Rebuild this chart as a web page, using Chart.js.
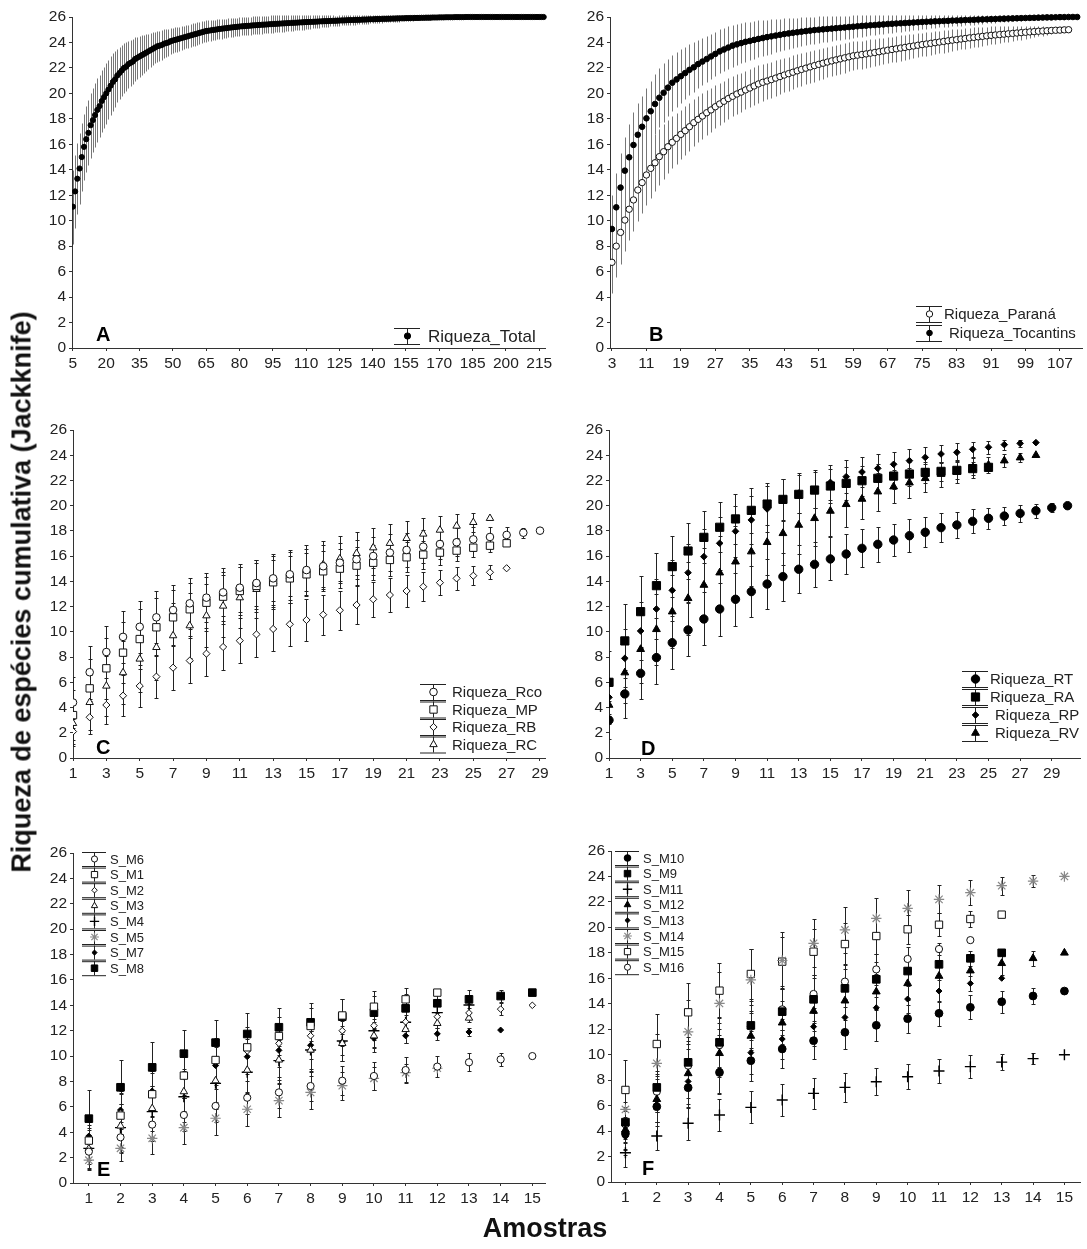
<!DOCTYPE html>
<html lang="pt">
<head>
<meta charset="UTF-8">
<title>Riqueza de espécies cumulativa (Jackknife)</title>
<script src="https://cdn.jsdelivr.net/npm/chart.js"></script>
<style>
  body { margin: 0; background: #fff; }
  #page { position: relative; width: 1087px; height: 1249px; overflow: hidden; background: #fff;
          font-family: "Liberation Sans", Arial, sans-serif; color: #111; }
  #page canvas { position: absolute; left: 0; top: 0; }
  .ytitle { position: absolute; left: 22px; top: 592px; transform: translate(-50%, -50%) rotate(-90deg);
            font-weight: bold; font-size: 27px; white-space: nowrap; }
  .xtitle { position: absolute; left: 545px; top: 1228px; transform: translate(-50%, -50%);
            font-weight: bold; font-size: 27px; white-space: nowrap; }
</style>
</head>
<body>
<div id="page">
  <canvas id="cA" width="1087" height="1249"></canvas>
  <canvas id="cB" width="1087" height="1249"></canvas>
  <canvas id="cC" width="1087" height="1249"></canvas>
  <canvas id="cD" width="1087" height="1249"></canvas>
  <canvas id="cE" width="1087" height="1249"></canvas>
  <canvas id="cF" width="1087" height="1249"></canvas>
  <div class="ytitle">Riqueza de espécies cumulativa (Jackknife)</div>
  <div class="xtitle">Amostras</div>
</div>
<script>
// ---------- data ----------
// A: total richness, samples 5..217
const totalStart = 5;
const riquezaTotal = [
  11.1, 12.3, 13.3, 14.1, 15.0, 15.8, 16.4, 16.9, 17.5, 17.9,
  18.3, 18.7, 19.0, 19.4, 19.7, 20.0, 20.3, 20.6, 20.9, 21.1,
  21.4, 21.6, 21.8, 22.0, 22.1, 22.3, 22.4, 22.5, 22.7, 22.8,
  22.9, 23.0, 23.1, 23.2, 23.3, 23.4, 23.5, 23.6, 23.7, 23.75,
  23.8, 23.9, 23.95, 24.0, 24.1, 24.15, 24.2, 24.25, 24.3, 24.35,
  24.4, 24.45, 24.5, 24.55, 24.6, 24.65, 24.7, 24.75, 24.8, 24.85,
  24.9, 24.92, 24.95, 24.98, 25.0, 25.03, 25.06, 25.08, 25.1, 25.12,
  25.15, 25.17, 25.19, 25.21, 25.23, 25.25, 25.27, 25.28, 25.3, 25.31,
  25.32, 25.34, 25.35, 25.36, 25.38, 25.39, 25.4, 25.41, 25.42, 25.44,
  25.45, 25.46, 25.47, 25.48, 25.49, 25.5, 25.51, 25.52, 25.53, 25.54,
  25.55, 25.56, 25.57, 25.58, 25.59, 25.6, 25.61, 25.62, 25.62, 25.63,
  25.64, 25.65, 25.66, 25.67, 25.67, 25.68, 25.69, 25.7, 25.7, 25.71,
  25.72, 25.73, 25.73, 25.74, 25.75, 25.76, 25.76, 25.77, 25.78, 25.78,
  25.79, 25.8, 25.8, 25.81, 25.82, 25.82, 25.83, 25.84, 25.84, 25.85,
  25.86, 25.86, 25.87, 25.87, 25.88, 25.88, 25.89, 25.89, 25.9, 25.9,
  25.91, 25.91, 25.92, 25.92, 25.93, 25.93, 25.93, 25.94, 25.94, 25.95,
  25.95, 25.95, 25.96, 25.96, 25.96, 25.97, 25.97, 25.97, 25.98, 25.98,
  25.98, 25.98, 25.99, 25.99, 25.99, 25.99, 25.99, 26, 26, 26,
  26, 26, 26, 26, 26, 26, 26, 26, 26, 26,
  26, 26, 26, 26, 26, 26, 26, 26, 26, 26,
  26, 26, 26, 26, 26, 26, 26, 26, 26, 26,
  26, 26, 26
];
const riquezaTotalErr = [
  2.9, 2.85, 2.8, 2.75, 2.7, 2.6, 2.6, 2.55, 2.55, 2.5,
  2.5, 2.5, 2.45, 2.45, 2.4, 2.4, 2.35, 2.3, 2.25, 2.2,
  2.1, 2.05, 2.0, 1.95, 1.9, 1.85, 1.8, 1.75, 1.7, 1.65,
  1.6, 1.55, 1.5, 1.45, 1.4, 1.35, 1.3, 1.25, 1.2, 1.18,
  1.15, 1.12, 1.1, 1.05, 1.02, 1.0, 0.98, 0.96, 0.95, 0.94,
  0.93, 0.92, 0.91, 0.9, 0.9, 0.89, 0.88, 0.87, 0.86, 0.85,
  0.84, 0.83, 0.82, 0.81, 0.8, 0.79, 0.78, 0.77, 0.76, 0.75,
  0.75, 0.74, 0.74, 0.73, 0.72, 0.72, 0.71, 0.71, 0.7, 0.7,
  0.7, 0.7, 0.7, 0.69, 0.69, 0.69, 0.68, 0.68, 0.68, 0.68,
  0.67, 0.67, 0.66, 0.66, 0.65, 0.65, 0.64, 0.63, 0.62, 0.61,
  0.6, 0.6, 0.59, 0.58, 0.58, 0.57, 0.55, 0.53, 0.52, 0.5,
  0.49, 0.48, 0.47, 0.46, 0.45, 0.44, 0.43, 0.42, 0.41, 0.4,
  0.4, 0.39, 0.39, 0.38, 0.38, 0.37, 0.37, 0.36, 0.36, 0.35,
  0.35, 0.34, 0.34, 0.33, 0.33, 0.32, 0.31, 0.31, 0.3, 0.3,
  0.29, 0.28, 0.28, 0.27, 0.27, 0.26, 0.25, 0.25, 0.24, 0.24,
  0.23, 0.22, 0.21, 0.21, 0.2, 0.19, 0.18, 0.18, 0.17, 0.16,
  0.16, 0.15, 0.15, 0.14, 0.14, 0.13, 0.12, 0.12, 0.11, 0.11,
  0.1, 0.1, 0.09, 0.09, 0.08, 0.08, 0.08, 0.07, 0.07, 0.06,
  0.06, 0.06, 0.05, 0.05, 0.05, 0.04, 0.04, 0.04, 0.03, 0.03,
  0.03, 0.03, 0.02, 0.02, 0.02, 0.02, 0.02, 0.01, 0.01, 0.01,
  0, 0, 0, 0, 0, 0, 0, 0, 0, 0,
  0, 0, 0
];
const xTicksA = [5, 20, 35, 50, 65, 80, 95, 110, 125, 140, 155, 170, 185, 200, 215];

// B: Paraná and Tocantins, samples from 3
const basinStart = 3;
const riquezaParana = [
  6.73, 8.0, 9.08, 10.05, 10.9, 11.63, 12.41, 12.99, 13.59, 14.11,
  14.55, 15.03, 15.42, 15.81, 16.16, 16.47, 16.78, 17.07, 17.38, 17.7,
  17.96, 18.22, 18.48, 18.7, 18.95, 19.17, 19.38, 19.59, 19.77, 19.95,
  20.1, 20.27, 20.42, 20.58, 20.74, 20.87, 20.97, 21.08, 21.2, 21.32,
  21.44, 21.55, 21.66, 21.77, 21.88, 21.98, 22.08, 22.18, 22.28, 22.37,
  22.46, 22.55, 22.63, 22.71, 22.79, 22.87, 22.95, 23.0, 23.05, 23.1,
  23.16, 23.21, 23.27, 23.33, 23.39, 23.45, 23.5, 23.56, 23.61, 23.67,
  23.72, 23.78, 23.83, 23.88, 23.93, 23.98, 24.03, 24.08, 24.13, 24.18,
  24.22, 24.27, 24.31, 24.36, 24.4, 24.44, 24.48, 24.52, 24.56, 24.59,
  24.62, 24.65, 24.68, 24.71, 24.74, 24.77, 24.8, 24.83, 24.85, 24.88,
  24.9, 24.92, 24.94, 24.96, 24.97, 24.99, 25.0
];
const riquezaParanaErr = [
  2.4, 2.45, 2.45, 2.45, 2.45, 2.45, 2.4, 2.4, 2.35, 2.3,
  2.25, 2.2, 2.15, 2.1, 2.05, 2.0, 1.95, 1.9, 1.87, 1.84,
  1.81, 1.78, 1.75, 1.72, 1.69, 1.66, 1.63, 1.6, 1.58, 1.56,
  1.54, 1.52, 1.5, 1.48, 1.46, 1.45, 1.43, 1.41, 1.39, 1.37,
  1.35, 1.34, 1.32, 1.3, 1.29, 1.27, 1.26, 1.25, 1.24, 1.22,
  1.21, 1.2, 1.18, 1.17, 1.16, 1.14, 1.13, 1.12, 1.1, 1.09,
  1.08, 1.06, 1.05, 1.04, 1.02, 1.01, 1.0, 0.99, 0.98, 0.96,
  0.95, 0.94, 0.93, 0.92, 0.91, 0.9, 0.89, 0.88, 0.86, 0.85,
  0.84, 0.82, 0.81, 0.79, 0.78, 0.76, 0.74, 0.72, 0.7, 0.68,
  0.66, 0.64, 0.62, 0.6, 0.57, 0.54, 0.51, 0.48, 0.45, 0.41,
  0.37, 0.33, 0.28, 0.23, 0.17, 0.1, 0
];
const riquezaTocantins = [
  9.35, 11.05, 12.6, 13.93, 14.98, 15.95, 16.75, 17.38, 18.04, 18.6,
  19.17, 19.66, 20.05, 20.45, 20.84, 21.1, 21.35, 21.6, 21.85, 22.05,
  22.3, 22.5, 22.7, 22.9, 23.1, 23.3, 23.45, 23.6, 23.75, 23.85,
  23.95, 24.05, 24.12, 24.2, 24.28, 24.35, 24.42, 24.48, 24.54, 24.6,
  24.66, 24.71, 24.76, 24.8, 24.85, 24.89, 24.93, 24.97, 25.0, 25.03,
  25.06, 25.09, 25.12, 25.15, 25.18, 25.21, 25.24, 25.27, 25.3, 25.32,
  25.35, 25.37, 25.4, 25.42, 25.45, 25.47, 25.49, 25.51, 25.53, 25.55,
  25.57, 25.59, 25.61, 25.63, 25.64, 25.66, 25.67, 25.69, 25.7, 25.72,
  25.73, 25.74, 25.76, 25.77, 25.78, 25.8, 25.81, 25.82, 25.83, 25.84,
  25.86, 25.87, 25.88, 25.89, 25.9, 25.91, 25.92, 25.93, 25.94, 25.95,
  25.96, 25.97, 25.97, 25.98, 25.99, 25.99, 26, 26, 26
];
const riquezaTocantinsErr = [
  2.7, 2.7, 2.7, 2.65, 2.6, 2.55, 2.5, 2.45, 2.4, 2.4,
  2.35, 2.3, 2.3, 2.25, 2.2, 2.15, 2.1, 2.05, 2.0, 1.95,
  1.9, 1.85, 1.8, 1.78, 1.75, 1.72, 1.7, 1.67, 1.64, 1.61,
  1.58, 1.55, 1.52, 1.48, 1.45, 1.42, 1.38, 1.35, 1.32, 1.28,
  1.25, 1.22, 1.19, 1.16, 1.13, 1.1, 1.08, 1.06, 1.04, 1.02,
  1.0, 0.98, 0.96, 0.94, 0.92, 0.9, 0.88, 0.86, 0.84, 0.82,
  0.8, 0.78, 0.76, 0.74, 0.72, 0.7, 0.68, 0.66, 0.64, 0.62,
  0.6, 0.58, 0.56, 0.54, 0.52, 0.5, 0.49, 0.47, 0.46, 0.44,
  0.43, 0.41, 0.4, 0.38, 0.37, 0.35, 0.34, 0.32, 0.31, 0.29,
  0.28, 0.26, 0.25, 0.23, 0.22, 0.2, 0.19, 0.17, 0.15, 0.14,
  0.12, 0.1, 0.09, 0.07, 0.05, 0.04, 0.02, 0.01, 0
];
const xTicksB = [3, 11, 19, 27, 35, 43, 51, 59, 67, 75, 83, 91, 99, 107];

// C: rivers, samples from 1
const riquezaRco = [4.4, 6.8, 8.4, 9.6, 10.4, 11.15, 11.73, 12.26, 12.71, 13.13, 13.5, 13.87, 14.24, 14.56, 14.9,
  15.2, 15.48, 15.75, 16.01, 16.28, 16.49, 16.75, 16.96, 17.1, 17.33, 17.52, 17.68, 17.86, 18.02];
const riquezaRcoErr = [2.0, 2.1, 2.05, 2.05, 2.05, 2.05, 2.0, 2.0, 1.95, 1.9, 1.9, 1.85, 1.8, 1.75, 1.7,
  1.65, 1.6, 1.55, 1.5, 1.45, 1.35, 1.3, 1.2, 1.1, 0.95, 0.8, 0.6, 0.4, 0];
const riquezaMP = [3.4, 5.52, 7.11, 8.35, 9.43, 10.36, 11.15, 11.79, 12.31, 12.79, 13.24, 13.64, 13.93, 14.24,
  14.56, 14.8, 15.01, 15.25, 15.48, 15.7, 15.91, 16.12, 16.28, 16.44, 16.67, 16.83, 17.02];
const riquezaMPErr = [2.0, 2.3, 2.4, 2.4, 2.35, 2.3, 2.2, 2.1, 2.0, 1.95, 1.9, 1.85, 1.8, 1.75,
  1.7, 1.6, 1.55, 1.5, 1.4, 1.3, 1.2, 1.1, 1.0, 0.85, 0.7, 0.5, 0];
const riquezaRB = [2.1, 3.23, 4.2, 4.94, 5.71, 6.45, 7.16, 7.72, 8.27, 8.8, 9.3, 9.8, 10.23, 10.6,
  10.94, 11.36, 11.71, 12.13, 12.58, 12.92, 13.24, 13.58, 13.9, 14.24, 14.45, 14.72, 15.04];
const riquezaRBErr = [1.0, 1.3, 1.5, 1.6, 1.7, 1.7, 1.75, 1.8, 1.8, 1.8, 1.8, 1.8, 1.75, 1.7,
  1.65, 1.6, 1.55, 1.5, 1.4, 1.35, 1.25, 1.15, 1.0, 0.9, 0.75, 0.55, 0];
const riquezaRC = [2.75, 4.41, 5.71, 6.77, 7.85, 8.77, 9.7, 10.49, 11.28, 12.05, 12.71, 13.37, 13.98,
  14.38, 14.9, 15.33, 15.8, 16.22, 16.67, 17.02, 17.41, 17.76, 18.07, 18.39, 18.68, 19.0];
const riquezaRCErr = [1.8, 2.2, 2.4, 2.5, 2.6, 2.6, 2.6, 2.55, 2.5, 2.45, 2.4, 2.3, 2.2,
  2.1, 2.0, 1.9, 1.8, 1.7, 1.6, 1.5, 1.35, 1.25, 1.15, 0.95, 0.75, 0];
const xTicksCD = [1, 3, 5, 7, 9, 11, 13, 15, 17, 19, 21, 23, 25, 27, 29];

// D: rivers, samples from 1
const riquezaRT = [3.0, 5.08, 6.71, 7.96, 9.14, 10.15, 11.02, 11.81, 12.58, 13.19, 13.79, 14.38, 14.96, 15.35, 15.78,
  16.17, 16.62, 16.94, 17.28, 17.62, 17.89, 18.26, 18.47, 18.76, 19.0, 19.18, 19.39, 19.6, 19.84, 20.0];
const riquezaRTErr = [1.5, 1.9, 2.0, 2.1, 2.1, 2.1, 2.1, 2.1, 2.1, 2.0, 1.95, 1.9, 1.9, 1.8, 1.7,
  1.6, 1.5, 1.4, 1.3, 1.3, 1.2, 1.15, 1.05, 0.95, 0.85, 0.75, 0.65, 0.55, 0.35, 0];
const riquezaRA = [6.0, 9.28, 11.6, 13.66, 15.17, 16.41, 17.49, 18.29, 18.95, 19.63, 20.13, 20.5, 20.9,
  21.24, 21.56, 21.77, 21.98, 22.17, 22.35, 22.51, 22.64, 22.72, 22.8, 22.94, 23.04];
const riquezaRAErr = [2.5, 2.9, 2.8, 2.6, 2.4, 2.25, 2.05, 2.0, 1.95, 1.8, 1.65, 1.6, 1.5,
  1.45, 1.35, 1.3, 1.2, 1.1, 1.0, 0.95, 0.85, 0.75, 0.65, 0.5, 0.3];
const riquezaRP = [4.81, 7.9, 10.07, 11.81, 13.29, 14.69, 15.96, 17.02, 17.97, 18.87, 19.74, 20.45, 21.0, 21.3,
  21.85, 22.3, 22.67, 22.96, 23.28, 23.57, 23.83, 24.1, 24.23, 24.47, 24.63, 24.84, 24.94, 25.0];
const riquezaRPErr = [1.5, 2.3, 2.3, 2.4, 2.4, 2.3, 2.2, 2.1, 2.0, 1.9, 1.8, 1.7, 1.6, 1.5,
  1.4, 1.3, 1.2, 1.1, 1.0, 0.9, 0.85, 0.75, 0.7, 0.6, 0.5, 0.4, 0.3, 0];
const riquezaRV = [4.2, 6.77, 8.62, 10.2, 11.6, 12.66, 13.71, 14.69, 15.56, 16.36, 17.1, 17.81, 18.47, 19.0,
  19.58, 20.11, 20.53, 21.11, 21.51, 21.82, 22.17, 22.5, 22.7, 23.0, 23.23, 23.57, 23.81, 24.0];
const riquezaRVErr = [1.5, 2.4, 2.7, 2.8, 2.9, 2.9, 2.9, 2.9, 2.8, 2.7, 2.6, 2.5, 2.3, 2.2,
  2.0, 1.8, 1.6, 1.5, 1.3, 1.2, 1.1, 1.0, 0.9, 0.8, 0.65, 0.5, 0.35, 0];

// E: sites M1-M8, samples from 1
const sM6 = [2.47, 3.6, 4.6, 5.36, 6.07, 6.72, 7.14, 7.64, 8.06, 8.43, 8.9, 9.17, 9.51, 9.74, 10.0];
const sM6Err = [1.0, 1.2, 1.3, 1.3, 1.3, 1.3, 1.25, 1.2, 1.15, 1.1, 1.0, 0.85, 0.7, 0.5, 0];
const sM1 = [3.34, 5.31, 6.99, 8.46, 9.69, 10.69, 11.58, 12.37, 13.2, 13.89, 14.47, 15.0];
const sM1Err = [1.5, 1.7, 1.8, 1.8, 1.7, 1.6, 1.5, 1.4, 1.3, 1.2, 0.9, 0];
const sM2 = [3.2, 5.5, 7.0, 8.4, 9.6, 10.4, 11.0, 11.6, 12.0, 12.4, 12.7, 13.1, 13.4, 13.7, 14.0];
const sM2Err = [1.4, 1.6, 1.7, 1.7, 1.6, 1.5, 1.4, 1.3, 1.2, 1.1, 1.0, 0.85, 0.7, 0.5, 0];
const sM3 = [2.7, 4.5, 5.88, 7.2, 8.06, 8.9, 9.7, 10.48, 11.0, 11.6, 12.1, 12.58, 13.0];
const sM3Err = [1.5, 1.7, 1.8, 1.8, 1.8, 1.7, 1.6, 1.5, 1.4, 1.3, 1.1, 0.8, 0];
const sM4 = [2.73, 4.36, 5.62, 6.8, 7.85, 8.72, 9.64, 10.48, 11.19, 12.0, 12.66, 13.42, 14.03];
const sM4Err = [1.6, 1.9, 2.0, 2.0, 2.0, 1.9, 1.8, 1.7, 1.6, 1.3, 1.0, 0.7, 0];
const sM5 = [1.8, 2.73, 3.52, 4.36, 5.1, 5.81, 6.49, 7.14, 7.67, 8.25, 8.69, 9.04];
const sM5Err = [0.8, 1.0, 1.2, 1.3, 1.3, 1.3, 1.3, 1.3, 1.1, 0.9, 0.7, 0];
const sM7 = [3.7, 5.75, 7.25, 8.5, 9.25, 9.95, 10.45, 10.85, 11.1, 11.4, 11.6, 11.75, 11.9, 12.05];
const sM7Err = [1.4, 1.5, 1.6, 1.6, 1.5, 1.4, 1.3, 1.1, 1.0, 0.8, 0.6, 0.5, 0.35, 0];
const sM8 = [5.07, 7.54, 9.11, 10.19, 11.06, 11.74, 12.27, 12.66, 13.11, 13.42, 13.76, 14.16, 14.47, 14.73, 15.0];
const sM8Err = [2.25, 2.15, 2.0, 1.9, 1.8, 1.65, 1.5, 1.5, 1.4, 1.3, 1.1, 0.9, 0.7, 0.5, 0];

// F: sites M9-M16, samples from 1
const sM10 = [3.8, 5.92, 7.41, 8.61, 9.53, 10.45, 11.1, 11.76, 12.31, 12.83, 13.25, 13.72, 14.16, 14.61, 15.0];
const sM10Err = [1.3, 1.5, 1.6, 1.6, 1.6, 1.5, 1.4, 1.3, 1.2, 1.1, 1.0, 0.95, 0.85, 0.6, 0];
const sM9 = [4.7, 7.43, 9.4, 10.97, 12.3, 13.38, 14.35, 15.21, 15.92, 16.57, 17.1, 17.57, 18.0];
const sM9Err = [1.6, 1.9, 2.0, 2.0, 1.9, 1.8, 1.7, 1.5, 1.4, 1.2, 1.0, 0.6, 0];
const sM11 = [2.3, 3.61, 4.61, 5.26, 5.86, 6.44, 6.96, 7.43, 7.88, 8.27, 8.72, 9.06, 9.42, 9.69, 10.0];
const sM11Err = [1.1, 1.1, 1.3, 1.25, 1.25, 1.25, 1.2, 1.15, 1.05, 1.0, 0.97, 0.9, 0.65, 0.45, 0];
const sM12 = [4.1, 6.5, 8.53, 10.11, 11.47, 12.51, 13.43, 14.24, 14.95, 15.6, 16.18, 16.6, 17.18, 17.57, 18.0];
const sM12Err = [1.5, 1.8, 1.9, 1.9, 1.8, 1.7, 1.6, 1.5, 1.4, 1.3, 1.2, 1.0, 0.9, 0.6, 0];
const sM13 = [3.56, 6.39, 7.9, 8.72, 10.16, 11.23, 12.2, 12.93, 13.69, 14.37, 15.0, 15.6, 16.0];
const sM13Err = [1.4, 1.7, 1.8, 1.8, 1.7, 1.6, 1.5, 1.4, 1.3, 1.1, 0.9, 0.6, 0];
const sM14 = [5.7, 9.32, 11.8, 14.03, 15.87, 17.4, 18.75, 19.8, 20.71, 21.5, 22.2, 22.73, 23.28, 23.64, 24.0];
const sM14Err = [1.8, 2.3, 2.5, 2.5, 2.4, 2.2, 1.9, 1.8, 1.6, 1.4, 1.1, 1.0, 0.7, 0.45, 0];
const sM15 = [7.23, 10.84, 13.33, 15.03, 16.34, 17.31, 18.09, 18.69, 19.32, 19.85, 20.21, 20.66, 21.0];
const sM15Err = [2.35, 2.33, 2.27, 2.15, 2.0, 1.95, 1.8, 1.65, 1.4, 1.15, 0.9, 0.6, 0];
const sM16 = [4.53, 7.09, 9.14, 10.76, 12.2, 13.56, 14.77, 15.74, 16.7, 17.52, 18.3, 19.0];
const sM16Err = [1.4, 1.6, 1.7, 1.7, 1.7, 1.6, 1.5, 1.4, 1.2, 0.9, 0.5, 0];
const xTicksEF = [1, 2, 3, 4, 5, 6, 7, 8, 9, 10, 11, 12, 13, 14, 15];

// ---------- style ----------
const FONT = "'Liberation Sans', Arial, sans-serif";
const PAGE_W = 1087, PAGE_H = 1249;
const YW = 45, XH = 30;
const AXIS = '#333', TXT = '#222';

const MK = {
  dotA:    { style: 'circle',   r: 2.6, fill: '#000', line: '#000' },
  dotB:    { style: 'circle',   r: 2.8, fill: '#000', line: '#000' },
  ringB:   { style: 'circle',   r: 3.2, fill: '#fff', line: '#111' },
  ring:    { style: 'circle',   r: 3.8, fill: '#fff', line: '#111' },
  box:     { style: 'rect',     r: 5.2, fill: '#fff', line: '#111' },
  diam:    { style: 'rectRot',  r: 3.6, fill: '#fff', line: '#111' },
  tri:     { style: 'triangle', r: 4.3, fill: '#fff', line: '#111' },
  dot:     { style: 'circle',   r: 4.2, fill: '#000', line: '#000' },
  boxF:    { style: 'rect',     r: 5.8, fill: '#000', line: '#000' },
  diamF:   { style: 'rectRot',  r: 3.3, fill: '#000', line: '#000' },
  triF:    { style: 'triangle', r: 4.5, fill: '#000', line: '#000' },
  plus:    { style: 'cross',    r: 5.5, fill: '#000', line: '#000', w: 1.4 },
  star:    { style: 'star',     r: 5.2, fill: '#888', line: '#888', w: 1.2 },
  ringS:   { style: 'circle',   r: 3.6, fill: '#fff', line: '#111' },
  boxS:    { style: 'rect',     r: 5.2, fill: '#fff', line: '#111' },
  boxFS:   { style: 'rect',     r: 5.4, fill: '#000', line: '#000' },
  dotS:    { style: 'circle',   r: 3.9, fill: '#000', line: '#000' },
  diamS:   { style: 'rectRot',  r: 3.3, fill: '#fff', line: '#111' },
  diamFS:  { style: 'rectRot',  r: 3.0, fill: '#000', line: '#000' }
};

function series(label, vals, errs, start, mk, errColor) {
  return {
    label,
    data: vals.map((v, i) => ({ x: start + i, y: v })),
    errors: errs,
    errColor: errColor || '#222',
    showLine: false,
    pointStyle: mk.style,
    pointRadius: mk.r,
    pointHoverRadius: mk.r,
    backgroundColor: mk.fill,
    borderColor: mk.line,
    pointBorderWidth: mk.w || 1,
    borderWidth: mk.w || 1,
    clip: { left: 0, top: 10, right: 4, bottom: 6 }
  };
}

// error bars drawn through the chart scales, behind the markers
const errorBars = {
  id: 'errorBars',
  beforeDatasetsDraw(chart) {
    const { ctx, chartArea: a, scales: { x, y } } = chart;
    const cap = chart.options.plugins.panelLegend.cap;
    ctx.save();
    ctx.beginPath();
    ctx.rect(a.left, a.top - 8, a.right - a.left + 3, a.bottom - a.top + 12);
    ctx.clip();
    ctx.lineWidth = 1;
    chart.data.datasets.forEach(ds => {
      if (!ds.errors) return;
      ctx.strokeStyle = ds.errColor;
      ctx.beginPath();
      ds.data.forEach((p, i) => {
        const e = ds.errors[i];
        if (!e) return;
        const px = Math.round(x.getPixelForValue(p.x)) + 0.5;
        const t = Math.round(y.getPixelForValue(p.y + e)) + 0.5;
        const b = Math.round(y.getPixelForValue(p.y - e)) + 0.5;
        ctx.moveTo(px, t); ctx.lineTo(px, b);
        if (cap > 0) {
          ctx.moveTo(px - cap, t); ctx.lineTo(px + cap, t);
          ctx.moveTo(px - cap, b); ctx.lineTo(px + cap, b);
        }
      });
      ctx.stroke();
    });
    ctx.restore();
  }
};

// Statistica-style legend: error bar glyph with marker, then label; plus panel letter
const panelLegend = {
  id: 'panelLegend',
  afterDraw(chart, args, o) {
    const ctx = chart.ctx;
    ctx.save();
    ctx.textBaseline = 'middle';
    ctx.textAlign = 'left';
    o.items.forEach((dsIndex, i) => {
      const ds = chart.data.datasets[dsIndex];
      const cx = o.cx, cy = o.cy[i];
      ctx.strokeStyle = '#222';
      ctx.lineWidth = 1;
      ctx.beginPath();
      ctx.moveTo(cx + 0.5, cy - o.half); ctx.lineTo(cx + 0.5, cy + o.half);
      ctx.moveTo(cx - o.capW, cy - o.half + 0.5); ctx.lineTo(cx + o.capW, cy - o.half + 0.5);
      ctx.moveTo(cx - o.capW, cy + o.half + 0.5); ctx.lineTo(cx + o.capW, cy + o.half + 0.5);
      ctx.stroke();
      ctx.fillStyle = ds.backgroundColor;
      ctx.strokeStyle = ds.borderColor;
      ctx.lineWidth = ds.pointBorderWidth;
      const r = ds.pointRadius * (o.markScale || 1);
      if (Chart.helpers && Chart.helpers.drawPoint) {
        Chart.helpers.drawPoint(ctx, { pointStyle: ds.pointStyle, radius: r, rotation: 0, borderWidth: ds.pointBorderWidth }, cx + 0.5, cy);
      } else {
        ctx.beginPath(); ctx.arc(cx, cy, r, 0, Math.PI * 2); ctx.fill(); ctx.stroke();
      }
      ctx.fillStyle = TXT;
      ctx.font = o.font;
      ctx.fillText(ds.label, o.tx[i], cy + 1);
    });
    ctx.fillStyle = '#000';
    ctx.font = 'bold 20px ' + FONT;
    ctx.fillText(o.letter, o.lx, o.ly);
    ctx.restore();
  }
};

function makePanel(id, g, datasets, legend) {
  new Chart(document.getElementById(id), {
    type: 'scatter',
    data: { datasets },
    options: {
      responsive: false,
      animation: false,
      devicePixelRatio: 1,
      events: [],
      layout: { padding: { left: g.l - YW, top: g.t, right: PAGE_W - g.r, bottom: PAGE_H - g.b - XH } },
      scales: {
        x: {
          type: 'linear', min: g.xmin, max: g.xmax,
          afterBuildTicks: ax => { ax.ticks = g.xticks.map(v => ({ value: v })); },
          afterFit: ax => { ax.height = XH; ax.paddingLeft = 0; ax.paddingRight = 0; },
          grid: { drawOnChartArea: false, tickLength: 3, color: AXIS },
          border: { color: AXIS, width: 1 },
          ticks: { font: { family: FONT, size: 15.5 }, color: TXT, padding: 3, maxRotation: 0, autoSkip: false }
        },
        y: {
          min: 0, max: 26,
          afterFit: ax => { ax.width = YW; ax.paddingTop = 0; ax.paddingBottom = 0; },
          grid: { drawOnChartArea: false, tickLength: 3, color: AXIS },
          border: { color: AXIS, width: 1 },
          ticks: { stepSize: 2, font: { family: FONT, size: 15.5 }, color: TXT, padding: 3 }
        }
      },
      plugins: { legend: { display: false }, tooltip: { enabled: false }, panelLegend: legend }
    },
    plugins: [errorBars, panelLegend]
  });
}

// ---------- panels ----------
makePanel('cA', { l: 72, r: 545, t: 17, b: 348, xmin: 4.6, xmax: 217.6, xticks: xTicksA }, [
  series('Riqueza_Total', riquezaTotal, riquezaTotalErr, totalStart, MK.dotA, '#777')
], { items: [0], cx: 407, cy: [336], tx: [428], half: 8, capW: 13, font: '17px ' + FONT,
     markScale: 1.2, letter: 'A', lx: 96, ly: 335, cap: 0 });

makePanel('cB', { l: 610, r: 1086, t: 17, b: 348, xmin: 2.55, xmax: 112.3, xticks: xTicksB }, [
  series('Riqueza_Paraná', riquezaParana, riquezaParanaErr, basinStart, MK.ringB, '#777'),
  series('Riqueza_Tocantins', riquezaTocantins, riquezaTocantinsErr, basinStart, MK.dotB, '#777')
], { items: [0, 1], cx: 929, cy: [314, 333], tx: [944, 949], half: 8, capW: 13, font: '15px ' + FONT,
     letter: 'B', lx: 649, ly: 335, cap: 0 });

makePanel('cC', { l: 73, r: 545, t: 430, b: 758, xmin: 1, xmax: 29.3, xticks: xTicksCD }, [
  series('Riqueza_Rco', riquezaRco, riquezaRcoErr, 1, MK.ring),
  series('Riqueza_MP', riquezaMP, riquezaMPErr, 1, MK.box),
  series('Riqueza_RB', riquezaRB, riquezaRBErr, 1, MK.diam),
  series('Riqueza_RC', riquezaRC, riquezaRCErr, 1, MK.tri)
], { items: [0, 1, 2, 3], cx: 433, cy: [692, 709.5, 727, 744.5], tx: [452, 452, 452, 452], half: 8, capW: 13,
     font: '15px ' + FONT, letter: 'C', lx: 96, ly: 748, cap: 2 });

makePanel('cD', { l: 609, r: 1086, t: 430, b: 758, xmin: 1, xmax: 30.8, xticks: xTicksCD }, [
  series('Riqueza_RT', riquezaRT, riquezaRTErr, 1, MK.dot),
  series('Riqueza_RA', riquezaRA, riquezaRAErr, 1, MK.boxF),
  series('Riqueza_RP', riquezaRP, riquezaRPErr, 1, MK.diamF),
  series('Riqueza_RV', riquezaRV, riquezaRVErr, 1, MK.triF)
], { items: [0, 1, 2, 3], cx: 975, cy: [679, 697, 715, 733], tx: [990, 990, 995, 995], half: 8, capW: 13,
     font: '15px ' + FONT, letter: 'D', lx: 641, ly: 749, cap: 2 });

makePanel('cE', { l: 73, r: 545, t: 853, b: 1183, xmin: 0.5, xmax: 15.4, xticks: xTicksEF }, [
  series('S_M6', sM6, sM6Err, 1, MK.ringS),
  series('S_M1', sM1, sM1Err, 1, MK.boxS),
  series('S_M2', sM2, sM2Err, 1, MK.diamS),
  series('S_M3', sM3, sM3Err, 1, MK.tri),
  series('S_M4', sM4, sM4Err, 1, MK.plus),
  series('S_M5', sM5, sM5Err, 1, MK.star),
  series('S_M7', sM7, sM7Err, 1, MK.diamFS),
  series('S_M8', sM8, sM8Err, 1, MK.boxFS)
], { items: [0, 1, 2, 3, 4, 5, 6, 7], cx: 94, cy: [859, 874.6, 890.2, 905.8, 921.4, 937, 952.6, 968.2],
     tx: [110, 110, 110, 110, 110, 110, 110, 110], half: 7, capW: 12, font: '13px ' + FONT, markScale: 0.85,
     letter: 'E', lx: 97, ly: 1170, cap: 2 });

makePanel('cF', { l: 611, r: 1086, t: 851, b: 1182, xmin: 0.54, xmax: 15.5, xticks: xTicksEF }, [
  series('S_M10', sM10, sM10Err, 1, MK.dotS),
  series('S_M9', sM9, sM9Err, 1, MK.boxFS),
  series('S_M11', sM11, sM11Err, 1, MK.plus),
  series('S_M12', sM12, sM12Err, 1, MK.triF),
  series('S_M13', sM13, sM13Err, 1, MK.diamFS),
  series('S_M14', sM14, sM14Err, 1, MK.star),
  series('S_M15', sM15, sM15Err, 1, MK.boxS),
  series('S_M16', sM16, sM16Err, 1, MK.ringS)
], { items: [0, 1, 2, 3, 4, 5, 6, 7], cx: 627, cy: [858, 873.6, 889.2, 904.8, 920.4, 936, 951.6, 967.2],
     tx: [643, 643, 643, 643, 643, 643, 643, 643], half: 7, capW: 12, font: '13px ' + FONT, markScale: 0.85,
     letter: 'F', lx: 642, ly: 1169, cap: 2 });
</script>
</body>
</html>
